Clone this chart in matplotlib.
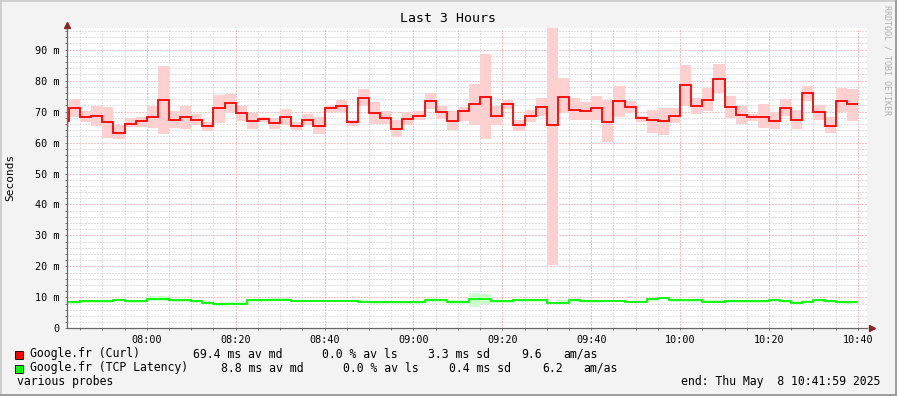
import datetime

import matplotlib
matplotlib.use('Agg')
import matplotlib.pyplot as plt
import matplotlib.dates as mdates
from matplotlib.ticker import MultipleLocator, FuncFormatter
from matplotlib.patches import Rectangle

plt.rcParams['font.family'] = 'DejaVu Sans Mono'

# 2.5 minute steps starting 07:40 (smokeping style median + spread)
red_md = [66.9, 71.2, 68.4, 68.7, 66.6, 63.2, 66.1, 66.9, 68.4, 73.9,
          67.4, 68.1, 67.4, 65.2, 71.0, 72.7, 69.5, 67.1, 67.6, 66.2,
          68.4, 65.2, 67.4, 65.5, 71.0, 71.9, 66.6, 74.4, 69.5, 68.0,
          64.5, 67.7, 68.7, 73.5, 69.8, 67.1, 70.1, 72.3, 74.8, 68.7,
          72.6, 65.7, 68.7, 71.6, 65.8, 74.8, 70.6, 70.3, 71.2, 66.6,
          73.5, 71.6, 68.0, 67.2, 66.9, 68.7, 78.7, 71.9, 73.9, 80.5,
          71.6, 69.0, 68.1, 68.4, 67.1, 71.3, 67.4, 75.9, 69.8, 65.5,
          73.5, 72.3]
red_hi = [68.3, 74.2, 70.1, 71.7, 71.4, 65.6, 67.8, 68.2, 71.7, 84.6,
          70.3, 71.9, 69.2, 66.6, 75.3, 75.6, 71.7, 69.5, 68.2, 68.0,
          70.8, 66.7, 69.2, 68.2, 72.0, 73.7, 67.4, 77.2, 73.0, 70.3,
          67.2, 69.9, 70.1, 76.0, 71.9, 70.1, 71.4, 78.9, 88.5, 71.7,
          73.9, 67.4, 70.6, 74.5, 99.0, 80.8, 74.3, 73.1, 74.9, 73.8,
          78.4, 73.3, 68.6, 70.6, 71.1, 71.1, 84.9, 74.3, 77.6, 85.3,
          74.9, 71.7, 69.1, 72.4, 70.0, 74.0, 70.4, 78.2, 72.0, 68.2,
          77.6, 77.2]
red_lo = [65.0, 68.2, 66.7, 65.3, 61.6, 61.2, 64.9, 64.9, 64.6, 62.7,
          64.6, 64.3, 65.7, 63.8, 66.3, 69.9, 66.9, 64.3, 66.6, 64.3,
          65.7, 64.0, 65.7, 62.8, 69.9, 69.9, 65.3, 71.8, 66.0, 66.0,
          61.8, 65.6, 67.2, 70.8, 67.5, 64.0, 67.0, 65.6, 61.1, 65.6,
          70.8, 63.8, 66.7, 68.6, 20.4, 69.4, 67.2, 67.2, 67.2, 60.2,
          68.2, 69.6, 66.7, 63.1, 62.4, 66.3, 71.9, 69.2, 70.1, 76.0,
          68.0, 66.1, 66.9, 64.8, 64.3, 68.6, 64.3, 73.3, 67.2, 63.0,
          69.9, 66.9]

green_md = [8.4, 8.4, 8.7, 8.7, 8.7, 9.1, 8.7, 8.7, 9.35, 9.35,
            9.0, 9.0, 8.7, 8.3, 7.7, 8.0, 8.0, 9.0, 9.0, 9.3,
            9.3, 8.9, 8.9, 8.9, 8.9, 8.9, 8.9, 8.6, 8.4, 8.4,
            8.4, 8.4, 8.4, 9.0, 9.0, 8.5, 8.5, 9.35, 9.35, 8.7,
            8.7, 9.0, 9.0, 9.0, 8.1, 8.1, 9.0, 8.7, 8.7, 8.9,
            8.9, 8.5, 8.5, 9.35, 9.8, 9.0, 9.0, 9.0, 8.6, 8.6,
            8.7, 8.7, 8.7, 8.7, 9.0, 8.7, 8.3, 8.6, 9.0, 8.7,
            8.4, 8.4]
green_hi = [8.8, 8.9, 9.1, 9.1, 9.1, 9.5, 9.1, 9.1, 10.4, 10.4,
            9.4, 9.4, 9.1, 8.7, 8.3, 8.4, 8.4, 9.4, 9.4, 9.7,
            9.7, 9.3, 9.3, 9.3, 9.3, 9.3, 9.3, 9.0, 8.8, 8.8,
            8.8, 8.8, 8.8, 9.7, 9.6, 9.0, 9.0, 11.3, 11.0, 9.1,
            9.1, 9.4, 9.4, 9.4, 8.6, 9.3, 9.4, 9.1, 9.1, 9.3,
            9.3, 8.9, 8.9, 9.7, 10.2, 9.4, 9.4, 9.4, 9.0, 9.0,
            9.1, 9.1, 9.1, 9.1, 9.4, 9.1, 8.7, 9.0, 9.4, 9.1,
            8.8, 8.8]
green_lo = [8.0, 8.0, 8.3, 8.3, 8.3, 8.7, 8.3, 8.3, 8.9, 8.9,
            8.6, 8.6, 8.3, 7.9, 7.3, 7.5, 7.6, 8.6, 8.6, 8.9,
            8.9, 8.5, 8.5, 8.5, 8.5, 8.5, 8.5, 8.2, 8.0, 8.0,
            7.9, 7.9, 8.0, 8.6, 8.6, 7.9, 7.9, 7.0, 7.8, 8.3,
            8.3, 8.6, 8.6, 8.6, 7.7, 7.7, 8.6, 8.3, 8.3, 8.5,
            8.5, 8.1, 8.1, 8.9, 9.4, 8.6, 8.6, 8.6, 8.2, 8.2,
            8.3, 8.3, 8.3, 8.3, 8.6, 8.3, 7.9, 8.2, 8.6, 8.3,
            8.0, 8.0]

legend_rows = [
    ('#ff0000', 'Google.fr (Curl)', ['69.4 ms av md', '0.0 % av ls', '3.3 ms sd', '9.6', 'am/as']),
    ('#00ff00', 'Google.fr (TCP Latency)', ['8.8 ms av md', '0.0 % av ls', '0.4 ms sd', '6.2', 'am/as']),
]

W, H, DPI = 897, 396, 100
fig = plt.figure(figsize=(W / DPI, H / DPI), dpi=DPI, facecolor='#f3f3f3')

def px(x, y):
    return x / W, 1 - y / H

# frame shading
fig.patches.append(Rectangle((0, 1 - 2 / H), 1, 2 / H, transform=fig.transFigure, color='#cfcfcf', lw=0))
fig.patches.append(Rectangle((0, 0), 2 / W, 1, transform=fig.transFigure, color='#cfcfcf', lw=0))
fig.patches.append(Rectangle((0, 0), 1, 2 / H, transform=fig.transFigure, color='#9e9e9e', lw=0))
fig.patches.append(Rectangle((1 - 2 / W, 0), 2 / W, 1, transform=fig.transFigure, color='#9e9e9e', lw=0))

ax = fig.add_axes([66.7 / W, (H - 328.3) / H, 800 / W, (328.3 - 28) / H])
ax.set_facecolor('white')

start = datetime.datetime(2025, 5, 8, 7, 40)
edges = mdates.date2num([start + datetime.timedelta(seconds=150 * i) for i in range(len(red_md) + 1)])

ax.stairs(red_hi, edges, baseline=red_lo, fill=True, color='#ffd0d0', lw=0)
ax.stairs(green_hi, edges, baseline=green_lo, fill=True, color='#ccffcc', lw=0)
ax.stairs(red_md, edges, baseline=None, color='#ff0000', lw=1.3)
ax.stairs(green_md, edges, baseline=None, color='#00ff00', lw=1.3)

end = datetime.datetime(2025, 5, 8, 10, 41, 59)
ax.set_xlim(mdates.date2num(end - datetime.timedelta(hours=3)), mdates.date2num(end))
ax.set_ylim(0, 97)

ax.xaxis.set_major_locator(mdates.MinuteLocator(byminute=[0, 20, 40]))
ax.xaxis.set_minor_locator(mdates.MinuteLocator(byminute=range(0, 60, 5)))
ax.xaxis.set_major_formatter(mdates.DateFormatter('%H:%M'))
ax.yaxis.set_major_locator(MultipleLocator(10))
ax.yaxis.set_minor_locator(MultipleLocator(2))
ax.yaxis.set_major_formatter(FuncFormatter(lambda v, p: '0' if v == 0 else '%d m' % v))

ax.set_axisbelow(True)
ax.grid(which='minor', color='#c4c4c4', ls=(0, (1, 2)), lw=0.72)
ax.grid(which='major', color='#f08c8c', ls=(0, (1, 2)), lw=0.72)

for s in ['top', 'right']:
    ax.spines[s].set_visible(False)
for s in ['left', 'bottom']:
    ax.spines[s].set_color('#666666')
    ax.spines[s].set_linewidth(0.9)

ax.tick_params(which='both', direction='out', length=1.5, width=0.7, color='#777777')
ax.tick_params(axis='x', which='major', labelsize=7.3, pad=3)
ax.tick_params(axis='y', which='major', labelsize=7.3, pad=3.6)

# axis arrows
ax.plot([0], [1.01], marker='^', ms=4.5, color='#8b2323', transform=ax.transAxes, clip_on=False)
ax.plot([1.006], [0], marker='>', ms=4.5, color='#8b2323', transform=ax.transAxes, clip_on=False)

fig.text(*px(448, 19), 'Last 3 Hours', ha='center', va='center', fontsize=9.5)
fig.text(*px(10, 177), 'Seconds', ha='center', va='center', rotation=90, fontsize=8)
fig.text(*px(887, 60), 'RRDTOOL / TOBI OETIKER', ha='center', va='center',
         rotation=270, fontsize=6, color='#b0b0b0')

# legend
chunk_x = [[193, 322, 428, 521, 563], [221, 343, 449, 542, 583]]
for i, (color, name, stats) in enumerate(legend_rows):
    y = 354 + 14 * i
    fig.patches.append(Rectangle(px(15, y + 4.5), 8 / W, 8 / H, transform=fig.transFigure,
                                 facecolor=color, edgecolor='black', lw=0.6))
    fig.text(*px(30, y), name, va='center', fontsize=8.3)
    for cx, txt in zip(chunk_x[i], stats):
        fig.text(*px(cx, y), txt, va='center', fontsize=8.3)

fig.text(*px(17, 382), 'various probes', va='center', fontsize=8.3)
fig.text(*px(880, 382), 'end: Thu May  8 10:41:59 2025', ha='right', va='center', fontsize=8.3)

fig.savefig('out.png', dpi=DPI, facecolor=fig.get_facecolor())
